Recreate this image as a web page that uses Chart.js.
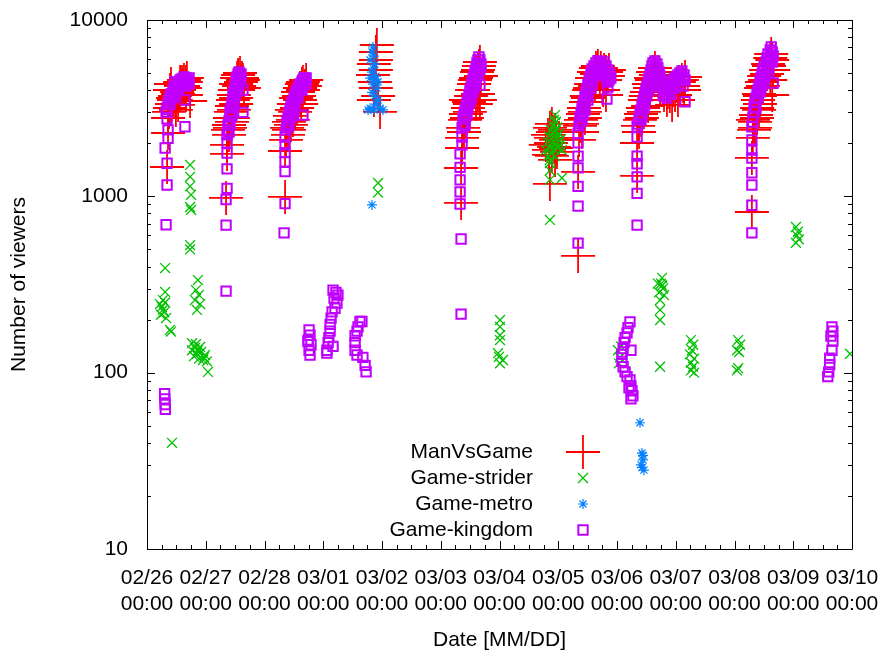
<!DOCTYPE html>
<html>
<head>
<meta charset="utf-8">
<script src="https://cdn.jsdelivr.net/npm/chart.js@4.4.1/dist/chart.umd.min.js"></script>
<style>
  html, body { margin: 0; padding: 0; background: #fff; }
</style>
</head>
<body>
<canvas id="myChart" width="878" height="653"></canvas>
<script>
// x values are hours since 02/26 00:00
var dayLabels = ['02/26', '02/27', '02/28', '03/01', '03/02', '03/03', '03/04',
                 '03/05', '03/06', '03/07', '03/08', '03/09', '03/10'];
var yTickValues = [10, 100, 1000, 10000];

// ManVsGame
var mvgHours = [
  8.2, 8.6, 8.6, 9.4, 10.2, 11.0, 11.4, 12.3, 13.1, 13.9, 14.3, 15.1, 15.9, 15.5, 13.5, 17.6, 9.4, 9.8, 13.5, 11.8, 12.7,
  9.0, 10.6, 12.7, 14.7, 16.3, 11.8, 15.9,
  32.3, 32.7, 33.1, 33.5, 33.9, 34.3, 34.7, 35.1, 35.5, 35.9, 36.4, 36.8, 37.2, 38.0, 38.8, 36.4, 35.1, 39.2, 37.2, 33.9,
  33.5, 34.7, 35.5, 36.4, 37.6, 38.4, 39.6, 32.7,
  56.4, 56.4, 57.2, 57.6, 58.0, 58.4, 59.2, 60.0, 60.9, 61.3, 61.7, 62.5, 63.3, 63.7, 64.5, 59.6, 62.5,
  56.8, 58.0, 58.8, 60.5, 62.1, 63.7, 65.0, 63.0,
  93.5, 93.5, 92.7, 93.1, 93.5, 95.2, 93.9, 92.3, 94.4, 93.5, 92.7,
  128.3, 128.3, 128.7, 129.1, 129.9, 130.3, 131.1, 131.5, 132.4, 132.8, 133.6, 134.4, 134.8, 135.6, 136.0, 135.2, 130.3, 136.0, 131.9,
  128.7, 129.5, 130.7, 131.9, 133.2, 134.0, 135.2, 136.4, 134.4,
  165.4, 164.6, 166.7, 163.8, 167.1, 165.0, 166.3, 164.2, 167.5, 165.4, 166.7, 164.6, 162.9, 168.3,
  165.9, 165.0, 167.1, 164.2,
  176.1, 176.1, 176.9, 177.3, 178.1, 178.5, 179.3, 179.7, 180.6, 181.4, 181.8, 182.6, 183.4, 184.2, 185.4, 186.7, 187.5, 188.3, 178.9, 186.3, 183.0, 177.7,
  176.5, 177.7, 178.9, 180.1, 181.0, 182.2, 183.8, 185.0, 187.1, 188.7, 187.5,
  200.2, 200.2, 200.6, 201.4, 201.8, 202.6, 203.4, 204.2, 205.1, 205.9, 206.7, 207.5, 208.7, 210.0, 211.2, 212.4, 213.6, 214.9, 216.1, 217.3, 218.5, 219.8, 219.4, 214.5, 209.6, 204.7,
  201.0, 202.2, 203.0, 203.8, 205.5, 206.3, 207.9, 209.6, 210.8, 212.8, 215.7, 217.7, 219.0, 216.9,
  247.1, 247.1, 248.0, 248.4, 248.8, 249.2, 249.6, 250.0, 250.8, 251.2, 252.1, 252.9, 253.7, 254.6, 255.0, 255.4, 254.6, 247.5, 250.4,
  247.5, 248.4, 249.2, 250.0, 250.4, 251.6, 252.5, 253.3, 254.1, 255.4, 255.8
];
var mvgViewers = [
  1467, 2287, 2782, 3170, 3340, 3519, 3708, 3906, 4010, 4225, 4451, 4568, 4451, 4116, 3756, 3473, 4010, 4336, 4451, 3519, 3297,
  3009, 3612, 3806, 4225, 4690, 3089, 3756,
  979, 1739, 2380, 2539, 2782, 3009, 3254, 3519, 3756, 4010, 4336, 4690, 4876, 5006, 4690, 3340, 2782, 4568, 4010, 2442,
  2229, 2641, 3089, 3612, 4225, 4451, 4116, 1956,
  992, 1808, 2442, 2229, 2641, 2856, 3089, 3340, 3612, 3170, 3906, 4116, 4336, 4451, 4225, 2711, 3519,
  2088, 2380, 2540, 3009, 3708, 4010, 4568, 3340,
  6585, 5932, 5630, 4451, 4116, 3009, 7215, 4876, 3708, 5206, 3519,
  917, 1448, 2143, 2442, 2711, 2931, 3170, 3428, 3708, 4010, 4336, 4690, 5070, 5485, 5779, 3806, 3519, 3519, 3009,
  1880, 2317, 2782, 3340, 4010, 4568, 5206, 4814, 3340,
  2573, 2442, 2380, 2229, 2088, 2007, 1905, 1833, 1785, 1694, 1609, 1176, 1956, 2143,
  2317, 2143, 1880, 1717,
  459, 1375, 2507, 2711, 2931, 3170, 3428, 3708, 4010, 4336, 4690, 5070, 5344, 5485, 5344, 5206, 5070, 4814, 2782, 4010, 4225, 2317,
  2088, 2573, 3009, 3612, 4116, 4690, 4942, 4568, 4568, 5206, 3756,
  1305, 2007, 2507, 2711, 2931, 3170, 3519, 3906, 4336, 4690, 5070, 5344, 5070, 4451, 3756, 3519, 3708, 4010, 4225, 4451, 4568, 4752, 4010, 3297, 4010, 3254,
  2317, 2782, 3009, 3708, 4116, 4568, 4876, 4568, 4010, 3906, 3756, 4010, 4225, 3519,
  815, 1651, 2380, 2641, 2893, 3170, 3519, 3806, 4116, 4451, 4814, 5206, 5630, 6089, 6415, 3756, 4568, 2711, 3340,
  2143, 2442, 2782, 3089, 3708, 4225, 4568, 4942, 5485, 5932, 5206
];

// Game-strider
var striderHours = [
  5.3, 6.5, 7.4, 5.7, 7.8, 6.5, 7.4, 7.4, 9.4, 9.8, 10.2, 6.1, 7.0,
  17.6, 17.6, 17.6, 18.0, 17.6, 18.0, 17.6, 17.6, 20.8, 20.0, 21.2, 19.6, 21.7, 20.4, 18.4, 19.6, 20.8, 22.1, 23.7, 19.2, 21.2, 22.9, 24.5, 24.9, 18.4, 20.4, 23.3, 20.0, 21.7,
  94.4, 94.4,
  144.2, 144.2, 144.2, 144.2, 143.4, 143.8, 144.2, 145.4,
  166.7, 166.3, 167.1, 165.9, 167.5, 165.0, 166.7, 168.3, 164.2, 165.9, 167.5, 169.1, 163.8, 165.4, 167.1, 168.7, 164.6, 166.3, 167.9, 169.5, 162.9, 165.4, 163.8, 166.7, 164.6, 164.6, 164.6, 164.6, 169.5, 164.6,
  192.4, 193.2, 192.8, 193.6,
  210.4, 210.0, 210.8, 209.2, 211.2, 209.6, 210.4, 208.7, 209.6, 209.6, 209.6,
  222.2, 223.1, 222.6, 221.8, 223.5, 222.2, 223.1, 222.2, 223.5,
  241.5, 242.3, 241.0, 241.9, 241.5, 241.0,
  265.1, 265.9, 265.5, 266.3, 265.1,
  287.2
];
var striderViewers = [
  245, 227, 250, 213, 204, 258, 392, 287, 175, 171, 40, 236, 220,
  1507, 1290, 1140, 1020, 870, 838, 500, 529, 335, 294, 276, 258, 245, 227, 147, 138, 134, 131, 126, 124, 120, 118, 116, 101, 134, 128, 122, 145, 140,
  1190, 1050,
  199, 182, 163, 153, 129, 123, 113, 118,
  2890, 2710, 2650, 2510, 2460, 2370, 2340, 2270, 2200, 2170, 2140, 2110, 2030, 2010, 1980, 1960, 1880, 1850, 1880, 1830, 1830, 1750, 1690, 1690, 1545, 1400, 1240, 1610, 1270, 735,
  134, 122, 113, 141,
  345, 320, 300, 285, 275, 258, 312, 320, 227, 199, 108,
  153, 144, 134, 127, 120, 114, 108, 103, 100,
  153, 144, 134, 131, 106, 103,
  670, 630, 600, 570, 545,
  128
];

// Game-metro
var metroHours = [
  92.3, 91.9, 92.7, 91.1, 93.1, 92.3, 91.9, 93.5, 92.7, 92.3, 93.9, 91.9, 93.1, 94.4, 93.5, 91.1, 92.7, 95.2, 94.4, 91.1, 90.3, 96.4,
  91.9,
  201.4, 202.2, 202.6, 201.8, 203.0, 202.2, 202.6
];
var metroViewers = [
  7030, 6590, 6240, 5930, 5620, 5330, 5060, 4800, 4570, 4330, 4110, 3890, 3700, 3520, 3330, 3160, 3090, 3160, 4460, 4680, 3090, 3090,
  894,
  52, 35, 32, 30, 28, 29, 34
];

// Game-kingdom
var kingdomHours = [
  7.2, 7.3, 7.4, 7.5, 7.8, 8.2, 7.4, 8.2, 8.6, 8.6, 8.2,
  7.8, 8.2, 8.6, 9.0, 9.4, 9.8, 10.2, 10.6, 11.0, 11.4, 11.8, 12.3, 12.7, 13.1, 13.5, 13.9, 14.3, 14.7, 15.1, 15.5, 15.9, 16.3, 16.7, 17.2, 15.9,
  9.4, 11.0, 12.7, 14.3, 15.9, 17.2, 11.4,
  15.5, 15.5,
  32.3, 32.3, 32.3, 32.7, 32.7, 32.7, 32.7,
  32.7, 33.1, 33.1, 33.5, 33.9, 33.9, 34.3, 34.7, 35.1, 35.1, 35.5, 35.9, 36.4, 36.4, 36.8, 37.2, 37.6, 38.0, 38.0, 37.2, 35.9, 35.1, 34.3, 36.8, 37.6, 38.4,
  33.9, 34.7, 35.5, 36.4, 37.2, 38.4, 33.5,
  39.2, 39.2,
  56.0, 56.4, 56.4, 56.4, 56.4, 56.4, 56.4,
  56.8, 57.2, 57.2, 57.6, 58.0, 58.4, 58.8, 59.2, 60.0, 60.5, 60.9, 61.7, 62.1, 62.5, 63.3, 63.7, 64.1, 64.5, 65.0, 63.3, 61.7, 60.5, 59.2, 58.4, 57.6,
  58.0, 59.2, 60.0, 61.3, 62.5, 63.7, 65.0,
  63.7,
  66.2, 66.6, 65.8, 67.0, 66.2, 66.6, 65.8,
  76.0, 77.2, 78.0, 76.4, 77.6, 76.8, 75.6, 75.2, 74.8, 74.8, 74.3, 74.0, 73.5, 76.0, 73.5,
  87.0, 86.2, 85.8, 85.0, 85.0, 85.0, 85.8, 88.2, 89.1, 89.5, 87.8,
  128.3, 128.3, 127.9, 127.9, 127.9, 127.9, 127.9, 128.7, 128.7,
  128.7, 129.1, 129.1, 129.5, 129.9, 130.3, 130.7, 131.1, 131.5, 131.9, 132.4, 132.8, 133.2, 133.6, 134.0, 134.4, 134.8, 135.2, 135.6, 136.0, 136.4, 135.2, 134.4, 133.6, 132.4, 131.1, 130.3, 129.5, 136.0,
  129.9, 130.7, 131.9, 133.2, 134.4, 135.2, 136.4,
  136.0,
  176.1, 176.1, 176.1, 176.1, 176.1, 176.1, 176.1,
  176.5, 176.9, 176.9, 177.3, 177.7, 178.1, 178.5, 178.9, 179.3, 179.7, 180.1, 180.6, 181.0, 181.4, 181.8, 182.6, 183.4, 184.2, 185.0, 185.9, 186.7, 187.5, 188.3, 189.1, 189.5, 187.5, 185.4, 183.4, 181.8, 180.1, 178.9, 178.1, 187.9,
  177.7, 178.9, 180.1, 181.4, 182.6, 184.2, 186.3, 188.7,
  187.9, 188.3,
  197.3, 196.5, 196.1, 195.3, 194.9, 194.5, 194.0, 194.0, 194.5, 195.3, 196.1, 197.3, 197.7, 198.1, 198.5, 197.7, 196.9, 197.7,
  200.2, 200.2, 200.2, 200.2, 200.2, 200.2, 200.2,
  200.6, 201.0, 201.4, 201.8, 202.2, 202.6, 203.0, 203.4, 203.8, 204.2, 204.7, 205.1, 205.5, 205.9, 206.3, 206.7, 207.5, 208.3, 208.7, 209.2, 209.6, 210.0, 210.4, 211.2, 212.0, 212.8, 213.6, 214.5, 215.3, 216.1, 216.9, 217.7, 218.5, 219.4, 219.8, 219.0, 217.3, 215.7, 214.1, 212.4, 210.8, 208.7, 207.1, 205.1, 203.4, 202.2,
  201.8, 203.0, 204.2, 205.5, 206.7, 208.3, 209.6, 211.2, 213.2, 215.3, 217.3, 219.0,
  219.8,
  247.1, 247.1, 247.1, 247.1, 247.1, 247.1, 247.1, 247.1,
  247.5, 247.5, 248.0, 248.0, 248.4, 248.8, 249.2, 249.6, 250.0, 250.4, 250.8, 251.2, 251.6, 252.1, 252.9, 253.3, 253.7, 254.6, 255.0, 255.4, 254.6, 253.7, 252.5, 251.6, 250.4, 255.4, 255.8, 254.1,
  248.8, 249.6, 250.8, 252.1, 253.3, 254.6, 255.8,
  279.8, 280.2, 279.4, 280.2, 279.8, 278.9, 278.9, 278.5, 278.1
];
var kingdomViewers = [
  76, 71, 66, 62, 690, 1160, 1880, 1540, 2130, 2380, 2750,
  3009, 3170, 3340, 3519, 3660, 3806, 3612, 3958, 4116, 3906, 4225, 4116, 4451, 4229, 4568, 4336, 4629, 4451, 4752, 4568, 4690, 4451, 4568, 4336, 4225,
  3340, 3708, 4010, 4225, 4336, 4690, 4451,
  2480, 3520,
  290, 687, 960, 1110, 1430, 1760, 2010,
  2229, 2380, 2540, 2675, 2819, 3009, 3170, 3340, 3519, 3710, 3906, 4116, 4336, 4568, 4752, 4942, 5070, 4876, 4568, 4225, 3710, 3254, 2931, 4010, 4336, 4690,
  2540, 2856, 3340, 3906, 4451, 4942, 2317,
  4010, 2990,
  620, 910, 1380, 1570, 1770, 1960, 2170,
  2380, 2507, 2675, 2819, 2970, 3129, 3254, 3428, 3566, 3756, 3906, 4063, 4225, 4336, 4451, 4568, 4690, 4568, 4336, 4010, 3708, 3384, 3089, 2782, 2573,
  2507, 2856, 3170, 3612, 4010, 4225, 4690,
  2890,
  175, 163, 153, 144, 134, 126, 150,
  294, 285, 275, 265, 248, 232, 221, 204, 188, 172, 158, 148, 134, 141, 129,
  195, 182, 172, 162, 148, 134, 126, 122, 110, 101, 195,
  215, 573, 905, 1060, 1240, 1460, 1740, 1960, 2170,
  2442, 2573, 2746, 2893, 3048, 3212, 3384, 3565, 3756, 3958, 4170, 4394, 4629, 4876, 5139, 5414, 5704, 5932, 6169, 5932, 5630, 5070, 4568, 4116, 3612, 3170, 2856, 2573, 5206,
  2507, 2931, 3428, 3906, 4451, 4942, 5485,
  4280,
  543, 880, 1140, 1450, 1690, 2010, 2280,
  2507, 2641, 2819, 2970, 3129, 3297, 3473, 3660, 3856, 4063, 4280, 4510, 4752, 5006, 5274, 5485, 5704, 5855, 5704, 5557, 5779, 5485, 5206, 4942, 4690, 4814, 5070, 4942, 4336, 3756, 3297, 2893, 4451,
  2711, 3089, 3519, 4116, 4814, 5206, 5070, 4568,
  3565, 4170,
  194, 180, 168, 158, 148, 137, 127, 116, 108, 101, 95, 91, 84, 79, 74, 71, 82, 134,
  687, 1040, 1290, 1530, 1690, 2170, 2480,
  2573, 2746, 2931, 3089, 3254, 3428, 3612, 3806, 4010, 4225, 4451, 4690, 4942, 5206, 5485, 5704, 5855, 5630, 5344, 5070, 4814, 4568, 4336, 4116, 3958, 4063, 4225, 4451, 4629, 4752, 4876, 5006, 5139, 4876, 4568, 4225, 4336, 4116, 3806, 3612, 3756, 4336, 4814, 4010, 3340, 2856,
  2711, 3170, 3708, 4336, 4942, 5070, 4225, 3708, 3806, 4225, 4568, 4690,
  3440,
  620, 890, 1160, 1360, 1650, 1830, 2090, 2480,
  2641, 2819, 3009, 3212, 3428, 3612, 3806, 4010, 4225, 4451, 4690, 4942, 5206, 5485, 5779, 6089, 6415, 6759, 7029, 6585, 5932, 5344, 4814, 4336, 3906, 5779, 4394, 5070,
  3170, 3612, 4116, 4690, 5344, 6089, 6250,
  182, 172, 161, 151, 134, 121, 111, 101, 95
];

function toPoints(hours, viewers) {
  return hours.map(function(h, i) { return { x: h, y: viewers[i] }; });
}

var textFont = { family: '"Liberation Sans", Arial, sans-serif', size: 21 };

var series = [
  { label: 'ManVsGame',    style: 'cross',    color: '#ff0000', radius: 17,  width: 1.8 },
  { label: 'Game-strider', style: 'crossRot', color: '#00c000', radius: 7,   width: 1.3 },
  { label: 'Game-metro',   style: 'star',     color: '#0080ff', radius: 5,   width: 1.2 },
  { label: 'Game-kingdom', style: 'rect',     color: '#c000ff', radius: 6.6, width: 2 }
];
var seriesData = [
  toPoints(mvgHours, mvgViewers),
  toPoints(striderHours, striderViewers),
  toPoints(metroHours, metroViewers),
  toPoints(kingdomHours, kingdomViewers)
];

// border with inward ticks on all four sides, plus the key
var frameTicks = {
  id: 'frameTicks',
  beforeDatasetsDraw: function(chart) {
    var ctx = chart.ctx, a = chart.chartArea;
    var xs = chart.scales.x, ys = chart.scales.y;
    ctx.save();
    ctx.strokeStyle = '#000';
    ctx.lineWidth = 1;
    ctx.beginPath();
    ctx.rect(a.left + 0.5, a.top + 0.5, a.right - a.left, a.bottom - a.top);
    for (var h = 0; h <= 288; h += 6) {
      var px = Math.round(xs.getPixelForValue(h)) + 0.5;
      var len = h % 24 === 0 ? 8 : 4;
      ctx.moveTo(px, a.bottom); ctx.lineTo(px, a.bottom - len);
      ctx.moveTo(px, a.top); ctx.lineTo(px, a.top + len);
    }
    for (var d = 10; d <= 10000; d *= 10) {
      for (var m = 1; m <= 9; m++) {
        var v = d * m;
        if (v > 10000) break;
        var py = Math.round(ys.getPixelForValue(v)) + 0.5;
        var l = m === 1 ? 8 : 4;
        ctx.moveTo(a.left, py); ctx.lineTo(a.left + l, py);
        ctx.moveTo(a.right, py); ctx.lineTo(a.right - l, py);
      }
    }
    ctx.stroke();
    ctx.restore();
  },
  afterDatasetsDraw: function(chart) {
    var ctx = chart.ctx;
    ctx.save();
    ctx.font = textFont.size + 'px ' + textFont.family;
    ctx.textAlign = 'right';
    ctx.textBaseline = 'middle';
    series.forEach(function(s, i) {
      var y = 452 + i * 26;
      ctx.fillStyle = '#000';
      ctx.fillText(s.label, 533, y);
      ctx.strokeStyle = s.color;
      ctx.fillStyle = 'rgba(0,0,0,0)';
      ctx.lineWidth = s.width;
      Chart.helpers.drawPoint(ctx, { pointStyle: s.style, radius: s.radius, borderWidth: s.width, rotation: 0 }, 583, y);
    });
    ctx.restore();
  }
};

// keep the tick-label overhang from shrinking the plot area
function noPadding(axis) {
  axis.paddingLeft = 0;
  axis.paddingRight = 0;
  axis.paddingTop = 0;
  axis.paddingBottom = 0;
}

var ctx = document.getElementById('myChart').getContext('2d');
var myChart = new Chart(ctx, {
  type: 'scatter',
  data: {
    datasets: series.map(function(s, i) {
      return {
        label: s.label,
        data: seriesData[i],
        pointStyle: s.style,
        pointRadius: s.radius,
        pointBorderWidth: s.width,
        pointBorderColor: s.color,
        pointBackgroundColor: 'rgba(0,0,0,0)',
        order: 4 - i
      };
    })
  },
  options: {
    responsive: false,
    animation: false,
    events: [],
    layout: { padding: { top: 20, right: 26, left: 0, bottom: 0 } },
    plugins: { legend: { display: false }, tooltip: { enabled: false } },
    scales: {
      x: {
        type: 'linear',
        min: 0,
        max: 288,
        afterBuildTicks: function(axis) {
          axis.ticks = dayLabels.map(function(d, i) { return { value: i * 24 }; });
        },
        afterFit: function(axis) { axis.height = 104; noPadding(axis); },
        grid: { display: false, drawTicks: false },
        border: { display: false },
        ticks: {
          autoSkip: false,
          maxRotation: 0,
          padding: 17,
          color: '#000',
          font: textFont,
          callback: function(value) { return [dayLabels[Math.round(value / 24)], '00:00']; }
        },
        title: { display: true, text: 'Date [MM/DD]', color: '#000', font: textFont, padding: { top: 0, bottom: 0 } }
      },
      y: {
        type: 'logarithmic',
        min: 10,
        max: 10000,
        afterBuildTicks: function(axis) {
          axis.ticks = yTickValues.map(function(v) { return { value: v }; });
        },
        afterFit: function(axis) { axis.width = 147; noPadding(axis); },
        grid: { display: false, drawTicks: false },
        border: { display: false },
        ticks: {
          padding: 19,
          color: '#000',
          font: textFont,
          callback: function(value) { return String(value); }
        },
        title: { display: true, text: 'Number of viewers', color: '#000', font: textFont, padding: { top: 7, bottom: 0 } }
      }
    }
  },
  plugins: [frameTicks]
});
</script>
</body>
</html>
